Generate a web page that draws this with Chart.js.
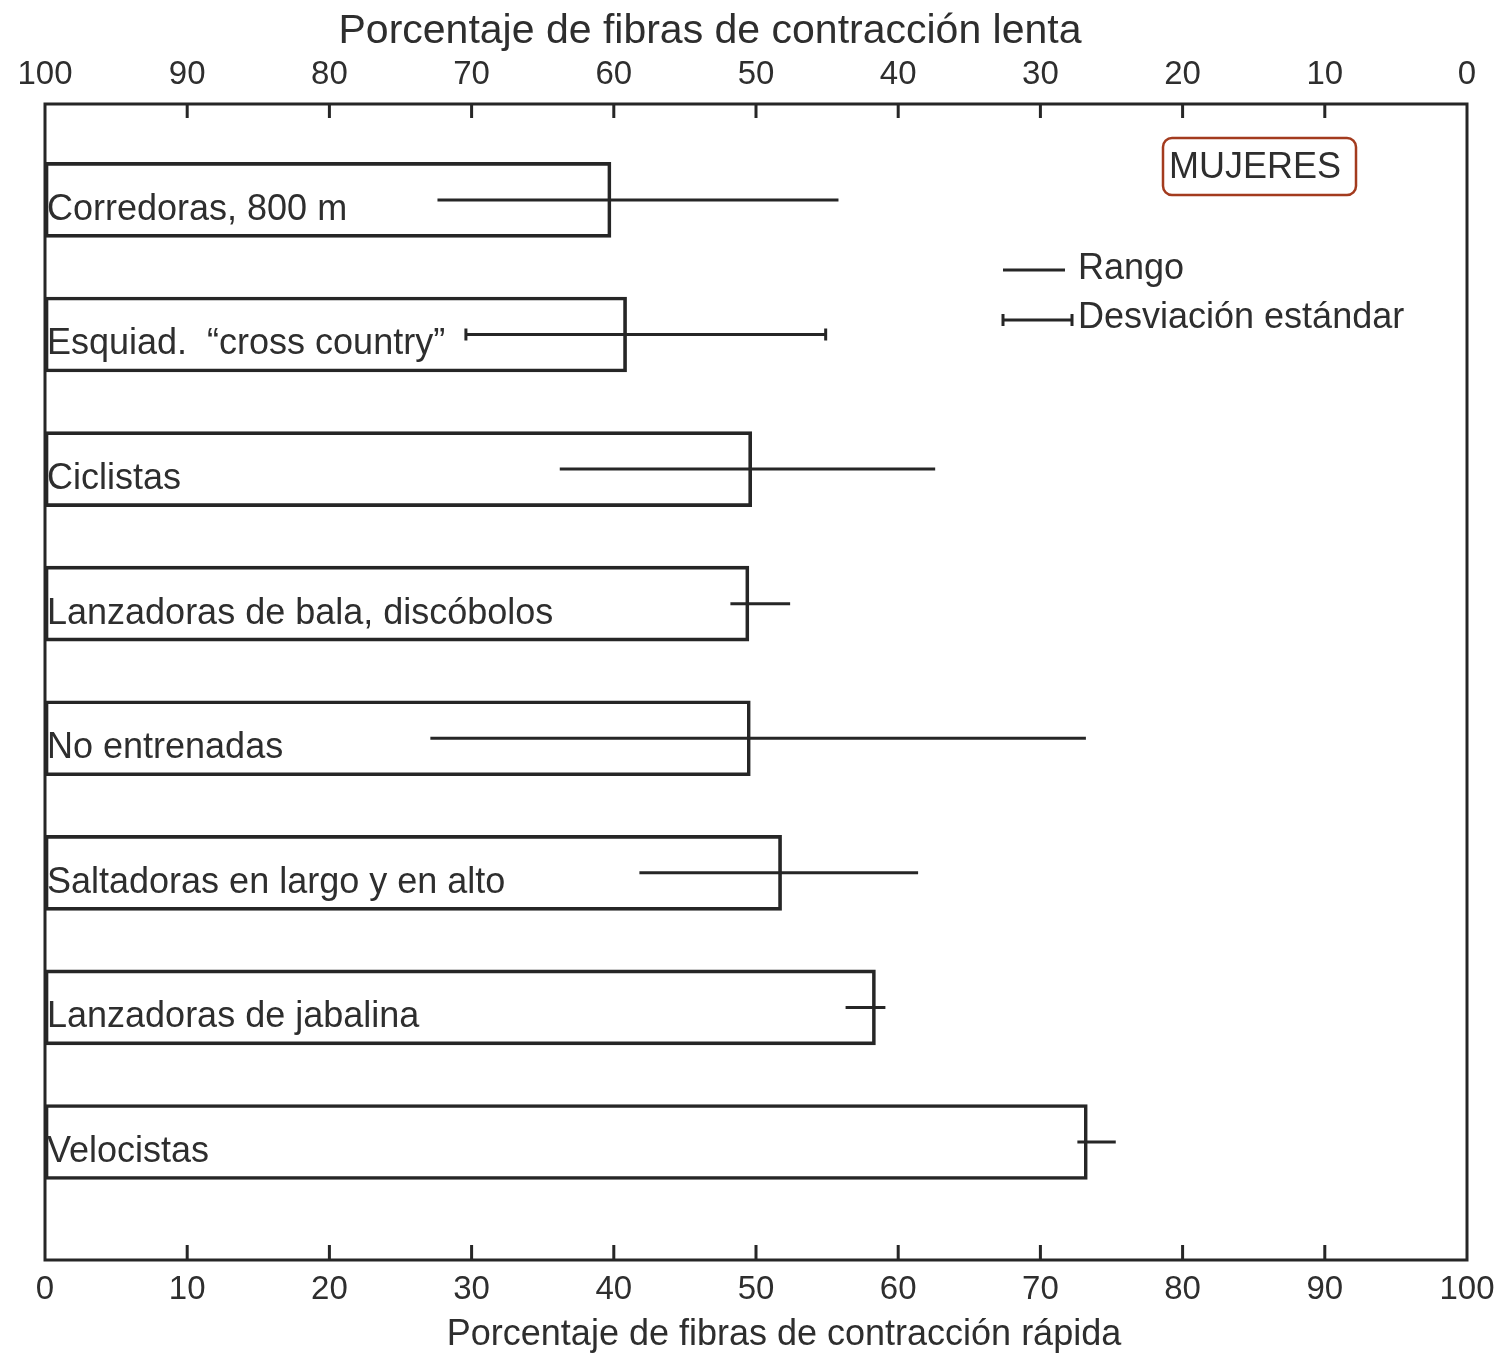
<!DOCTYPE html>
<html><head><meta charset="utf-8">
<script src="https://cdn.jsdelivr.net/npm/chart.js@4.4.0/dist/chart.umd.min.js"></script>
<style>html,body{margin:0;padding:0;background:#fff;}#wrap{width:1499px;height:1355px;position:relative;}</style>
</head><body><div id="wrap"><canvas id="c" width="1499" height="1355"></canvas></div>
<script>
// ---- data ----
const categories = [
  'Corredoras, 800 m',
  'Esquiad.  \u201ccross country\u201d',
  'Ciclistas',
  'Lanzadoras de bala, discóbolos',
  'No entrenadas',
  'Saltadoras en largo y en alto',
  'Lanzadoras de jabalina',
  'Velocistas'
];
const fastPct   = [39.8, 40.9, 49.7, 49.5, 49.6, 51.8, 58.4, 73.3];
const spreadLow = [27.6, 29.6, 36.2, 48.2, 27.1, 41.8, 56.3, 72.6];
const spreadHigh= [55.8, 54.9, 62.6, 52.4, 73.2, 61.4, 59.1, 75.3];
const spreadKind= ['range','sd','range','range','range','range','range','range'];
const tickValues = [0,10,20,30,40,50,60,70,80,90,100];
const titleTop = 'Porcentaje de fibras de contracción lenta';
const titleBottom = 'Porcentaje de fibras de contracción rápida';
const panelLabel = 'MUJERES';
const legendRange = 'Rango';
const legendSD = 'Desviación estándar';

const FONT = '"Liberation Sans", Arial, Helvetica, sans-serif';
const INK = '#262626';
const TXT = '#2e2e2e';

const overlay = {
  id: 'overlay',
  afterDatasetsDraw(chart) {
    const ctx = chart.ctx;
    const a = chart.chartArea;
    const xs = chart.scales.x, xt = chart.scales.x2, ys = chart.scales.y;
    ctx.save();
    ctx.strokeStyle = INK;
    ctx.lineWidth = 3;
    ctx.lineCap = 'butt';
    // frame
    ctx.strokeRect(a.left, a.top, a.right - a.left, a.bottom - a.top);
    // inward ticks
    ctx.beginPath();
    tickValues.forEach(v => {
      const pb = xs.getPixelForValue(v);
      if (v > 0 && v < 100) { ctx.moveTo(pb, a.bottom); ctx.lineTo(pb, a.bottom - 15); }
      const pt = xt.getPixelForValue(v);
      if (v > 0 && v < 100) { ctx.moveTo(pt, a.top); ctx.lineTo(pt, a.top + 14); }
    });
    ctx.stroke();
    // error lines
    ctx.lineWidth = 3;
    categories.forEach((c, i) => {
      const y = ys.getPixelForValue(i);
      const x1 = xs.getPixelForValue(spreadLow[i]);
      const x2 = xs.getPixelForValue(spreadHigh[i]);
      ctx.beginPath();
      ctx.moveTo(x1, y); ctx.lineTo(x2, y);
      if (spreadKind[i] === 'sd') {
        ctx.moveTo(x1, y - 6); ctx.lineTo(x1, y + 6);
        ctx.moveTo(x2, y - 6); ctx.lineTo(x2, y + 6);
      }
      ctx.stroke();
    });
    // category labels inside bars
    ctx.fillStyle = TXT;
    ctx.font = '36px ' + FONT;
    ctx.textAlign = 'left';
    ctx.textBaseline = 'middle';
    categories.forEach((c, i) => {
      const y = ys.getPixelForValue(i);
      ctx.fillText(c, a.left + 2, y + 10);
    });
    // titles
    ctx.textAlign = 'center';
    ctx.font = '41px ' + FONT;
    ctx.fillText(titleTop, 710, 32);
    ctx.font = '36px ' + FONT;
    ctx.fillText(titleBottom, 784, 1335);
    // MUJERES box
    ctx.strokeStyle = '#a33b1e';
    ctx.lineWidth = 2.5;
    ctx.beginPath();
    ctx.roundRect(1163, 138, 193, 57, 9);
    ctx.stroke();
    ctx.fillStyle = TXT;
    ctx.font = '36px ' + FONT;
    ctx.textAlign = 'left';
    ctx.fillText(panelLabel, 1169, 168);
    // legend
    ctx.strokeStyle = INK;
    ctx.lineWidth = 3;
    ctx.beginPath();
    ctx.moveTo(1003, 270); ctx.lineTo(1065, 270);
    ctx.moveTo(1003, 320); ctx.lineTo(1072, 320);
    ctx.moveTo(1003, 314); ctx.lineTo(1003, 326);
    ctx.moveTo(1072, 314); ctx.lineTo(1072, 326);
    ctx.stroke();
    ctx.fillText(legendRange, 1078, 269);
    ctx.fillText(legendSD, 1078, 318);
    ctx.restore();
  }
};

new Chart(document.getElementById('c'), {
  type: 'bar',
  data: {
    datasets: [{
      data: fastPct.map((v, i) => ({ x: v, y: i })),
      backgroundColor: 'rgba(255,255,255,0)',
      borderColor: INK,
      borderWidth: 3,
      borderSkipped: false,
      barThickness: 75
    }]
  },
  plugins: [overlay],
  options: {
    responsive: false,
    animation: false,
    indexAxis: 'y',
    layout: { padding: { left: 45, right: 32, top: 0, bottom: 0 } },
    plugins: { legend: { display: false }, tooltip: { enabled: false } },
    scales: {
      y: { type: 'linear', reverse: true, min: -0.713, max: 7.877, offset: false, display: false },
      x: {
        type: 'linear', position: 'bottom', min: 0, max: 100,
        afterBuildTicks: s => { s.ticks = tickValues.map(v => ({ value: v })); },
        afterFit: s => { s.height = 95; },
        ticks: { color: TXT, font: { size: 33, family: FONT, lineHeight: 1.6 }, padding: 4, maxRotation: 0 },
        grid: { display: false, drawTicks: false },
        border: { display: false }
      },
      x2: {
        type: 'linear', position: 'top', reverse: true, min: 0, max: 100,
        afterBuildTicks: s => { s.ticks = tickValues.map(v => ({ value: v })); },
        afterFit: s => { s.height = 104; },
        ticks: { color: TXT, font: { size: 33, family: FONT, lineHeight: 1.6 }, padding: 3, maxRotation: 0 },
        grid: { display: false, drawTicks: false },
        border: { display: false }
      }
    }
  }
});
</script>
</body></html>
